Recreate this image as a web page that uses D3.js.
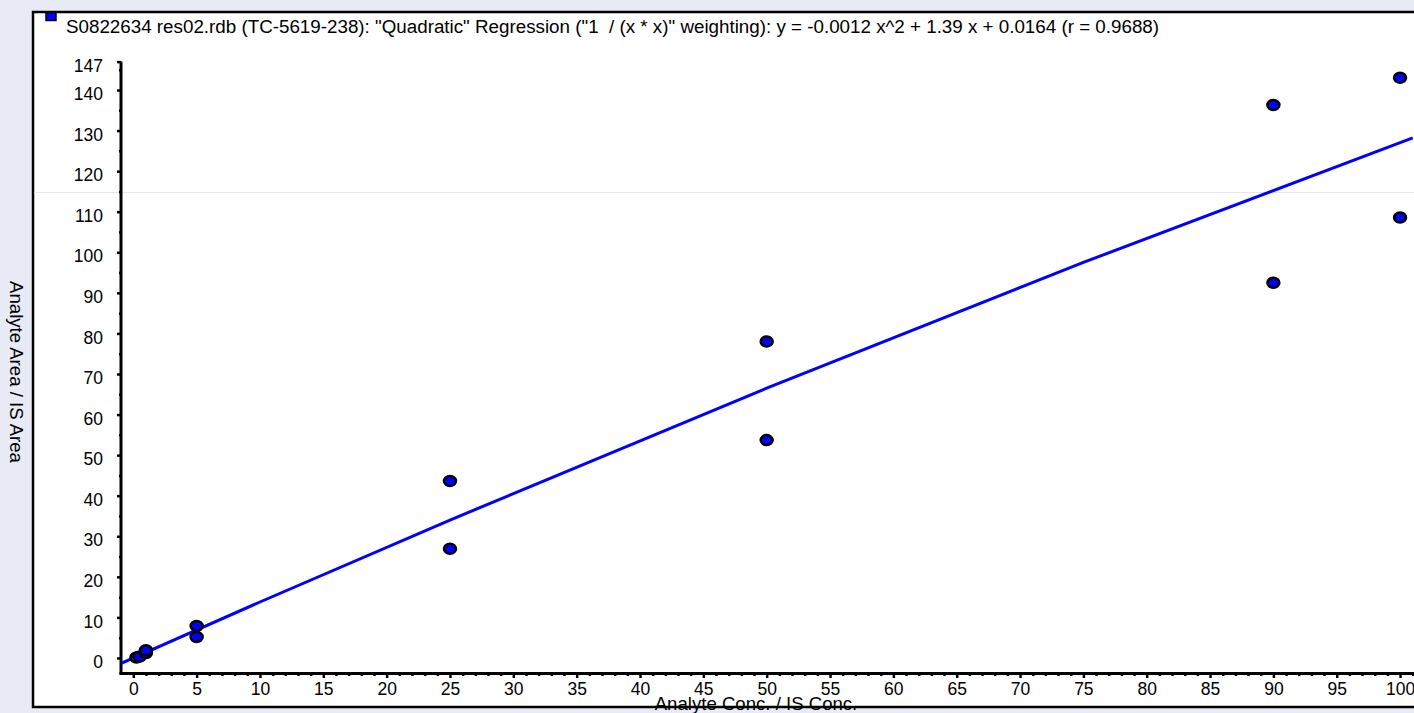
<!DOCTYPE html>
<html>
<head>
<meta charset="utf-8">
<script src="https://cdn.jsdelivr.net/npm/d3@7.9.0/dist/d3.min.js"></script>
<style>
  body { margin: 0; background: #e8ebf5; }
  svg { display: block; font-family: "Liberation Sans", Arial, sans-serif; }
  text { white-space: pre; }
</style>
</head>
<body>
<svg id="chart" width="1414" height="713"></svg>
<script>
// data
const titleText = 'S0822634 res02.rdb (TC-5619-238): "Quadratic" Regression ("1  / (x * x)" weighting): y = -0.0012 x^2 + 1.39 x + 0.0164 (r = 0.9688)';
const xLabel = 'Analyte Conc. / IS Conc.';
const yLabel = 'Analyte Area / IS Area';

// calibration points
const concValues = [0.25, 0.5, 1, 1, 5, 5, 25, 25, 50, 50, 90, 90, 100, 100];
const areaValues = [0.15, 0.35, 1.2, 1.9, 7.9, 5.2, 43.6, 26.9, 78.0, 53.7, 136.3, 92.5, 143.0, 108.6];

// regression curve, points
const curveX = [-1, 10, 25, 50, 75, 101];
const curveY = [-1.4, 13.8, 34.0, 66.5, 97.5, 128.2];

const xMajorTicks = d3.range(0, 101, 5);
const xMinorTicks = d3.range(0, 102, 1).filter(d => d % 5 !== 0);
const yMajorTicks = [0, 10, 20, 30, 40, 50, 60, 70, 80, 90, 100, 110, 120, 130, 140, 147];
const yMinorTicks = d3.range(5, 146, 10);

const fontSize = 18.6;
const tickFont = 17.5;

const svg = d3.select('#chart');

// white panel with black frame
svg.append('rect')
  .attr('x', 33).attr('y', 12)
  .attr('width', 1420).attr('height', 695)
  .attr('fill', '#fff')
  .attr('stroke', '#000')
  .attr('stroke-width', 2.5);

// faint horizontal line across the panel
svg.append('line')
  .attr('x1', 34).attr('x2', 1414)
  .attr('y1', 192.5).attr('y2', 192.5)
  .attr('stroke', '#e2e5f2').attr('stroke-width', 1);

// legend swatch + title
svg.append('rect')
  .attr('x', 46).attr('y', 12.5)
  .attr('width', 10).attr('height', 8)
  .attr('fill', '#0000ff')
  .attr('stroke', '#000').attr('stroke-width', 1.5);

svg.append('text')
  .attr('x', 66).attr('y', 33)
  .attr('font-size', 18.8)
  .attr('fill', '#000')
  .text(titleText);

const x = d3.scaleLinear().domain([-0.97, 101.1]).range([121, 1414]);
const y = d3.scaleLinear().domain([-3.7, 147]).range([673, 61.6]);

// y axis
const yAxis = svg.append('g')
  .attr('transform', 'translate(121,0)')
  .call(d3.axisLeft(y).tickValues(yMajorTicks).tickSize(4).tickSizeOuter(0).tickPadding(14).tickFormat(d3.format('d')));
yAxis.select('.domain').remove();
yAxis.selectAll('.tick line').attr('stroke', '#000').attr('stroke-width', 2.5);
yAxis.selectAll('.tick text').attr('font-size', tickFont).attr('font-family', 'Liberation Sans, Arial, sans-serif').attr('fill', '#000').attr('y', 4);

svg.append('g')
  .attr('transform', 'translate(121,0)')
  .call(d3.axisLeft(y).tickValues(yMinorTicks).tickSize(2).tickFormat(''))
  .call(g => g.select('.domain').remove())
  .selectAll('.tick line').attr('stroke', '#000').attr('stroke-width', 2.5);

svg.append('line')
  .attr('x1', 121).attr('x2', 121)
  .attr('y1', y(147)).attr('y2', 674.5)
  .attr('stroke', '#000').attr('stroke-width', 3);

// x axis
const xAxis = svg.append('g')
  .attr('transform', 'translate(0,674)')
  .call(d3.axisBottom(x).tickValues(xMajorTicks).tickSize(4).tickSizeOuter(0).tickPadding(5).tickFormat(d3.format('d')));
xAxis.select('.domain').remove();
xAxis.selectAll('.tick line').attr('stroke', '#000').attr('stroke-width', 2.5);
xAxis.selectAll('.tick text').attr('font-size', tickFont).attr('font-family', 'Liberation Sans, Arial, sans-serif').attr('fill', '#000');

svg.append('g')
  .attr('transform', 'translate(0,674)')
  .call(d3.axisBottom(x).tickValues(xMinorTicks).tickSize(2).tickFormat(''))
  .call(g => g.select('.domain').remove())
  .selectAll('.tick line').attr('stroke', '#000').attr('stroke-width', 2.5);

svg.append('line')
  .attr('x1', 119.5).attr('x2', 1414)
  .attr('y1', 673.5).attr('y2', 673.5)
  .attr('stroke', '#000').attr('stroke-width', 3);

// axis titles
svg.append('text')
  .attr('transform', 'translate(10,372) rotate(90)')
  .attr('text-anchor', 'middle')
  .attr('font-size', fontSize)
  .attr('fill', '#000')
  .text(yLabel);

svg.append('text')
  .attr('x', 756).attr('y', 710)
  .attr('text-anchor', 'middle')
  .attr('font-size', fontSize)
  .attr('fill', '#000')
  .text(xLabel);

// clip the plotting area
svg.append('clipPath').attr('id', 'plot-clip')
  .append('rect').attr('x', 121).attr('y', 40).attr('width', 1300).attr('height', 633);

const plot = svg.append('g').attr('clip-path', 'url(#plot-clip)');

const curveData = curveX.map((cx, i) => [cx, curveY[i]]);
plot.append('path')
  .datum(curveData)
  .attr('d', d3.line().x(d => x(d[0])).y(d => y(d[1])).curve(d3.curveMonotoneX))
  .attr('fill', 'none')
  .attr('stroke', '#0000ff')
  .attr('stroke-width', 3);

const points = concValues.map((c, i) => ({ conc: c, area: areaValues[i] }));
svg.append('g')
  .selectAll('ellipse')
  .data(points)
  .join('ellipse')
  .attr('cx', d => x(d.conc))
  .attr('cy', d => y(d.area))
  .attr('rx', 6)
  .attr('ry', 5)
  .attr('fill', '#0000ff')
  .attr('stroke', '#000')
  .attr('stroke-width', 2.5);
</script>
</body>
</html>
